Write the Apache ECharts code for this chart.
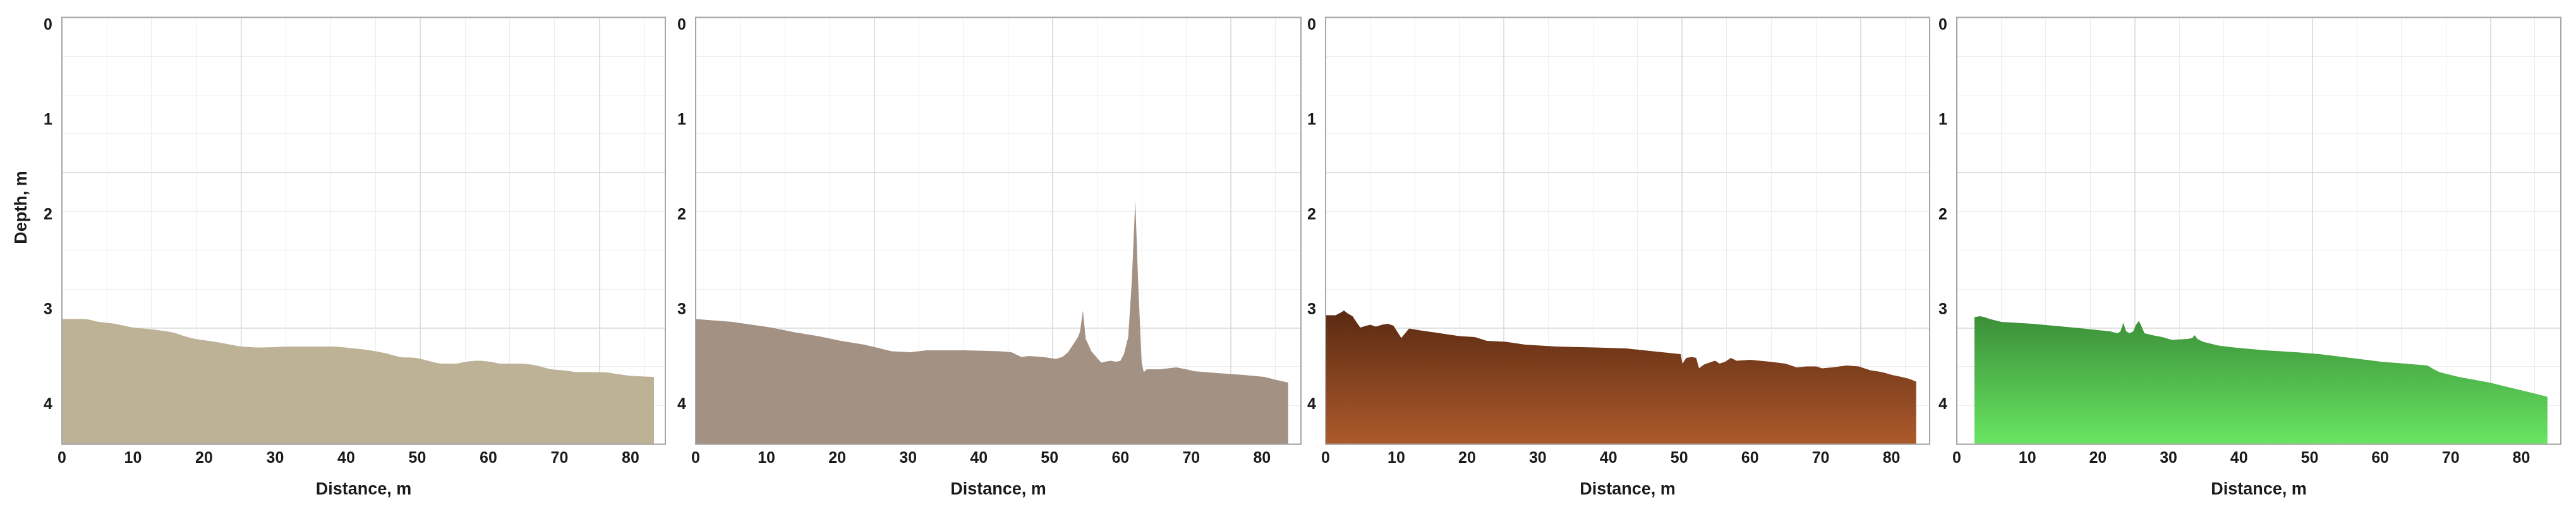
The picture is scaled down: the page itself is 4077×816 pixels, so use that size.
<!DOCTYPE html>
<html><head><meta charset="utf-8">
<script src="https://cdn.jsdelivr.net/npm/echarts@6/dist/echarts.min.js"></script>
<style>html,body{margin:0;padding:0;background:#fff}#c{width:4077px;height:816px}</style>
</head><body><div id="c"></div>
<script>
// ---- data (distance in m, depth in m) ----
const xTickValues = [0, 10, 20, 30, 40, 50, 60, 70, 80];
const yTickValues = [0, 1, 2, 3, 4];
const xAxisTitle = 'Distance, m';
const yAxisTitle = 'Depth, m';

const dist1 = [0, 3.0, 5.2, 7.4, 10.1, 12.8, 15.5, 17.2, 18.8, 21.5, 23.7, 25.3, 28.0, 32.4, 37.8, 41.1, 43.3, 45.5, 47.6, 49.8, 51.5, 53.6, 55.3, 56.9, 58.5, 60.2, 61.8, 64.5, 66.7, 68.9, 70.5, 72.7, 76.0, 78.1, 80.3, 83.3];
const depth1 = [3.18, 3.18, 3.21, 3.23, 3.27, 3.29, 3.32, 3.36, 3.39, 3.42, 3.45, 3.47, 3.48, 3.47, 3.47, 3.49, 3.51, 3.54, 3.58, 3.59, 3.62, 3.65, 3.65, 3.63, 3.62, 3.63, 3.65, 3.65, 3.67, 3.71, 3.72, 3.74, 3.74, 3.76, 3.78, 3.79];

const dist2 = [0, 5.2, 7.9, 10.7, 14.0, 17.3, 20.5, 23.8, 25.5, 27.7, 30.4, 32.6, 38.1, 43.0, 44.6, 46.0, 47.1, 49.0, 50.9, 51.8, 52.6, 53.4, 54.0, 54.3, 54.7, 55.1, 55.9, 56.7, 57.3, 57.8, 58.6, 59.4, 60.0, 60.5, 61.1, 61.6, 62.1, 62.5, 63.0, 63.3, 63.7, 65.5, 67.9, 69.3, 70.4, 73.7, 77.5, 80.3, 81.9, 83.7];
const depth2 = [3.18, 3.21, 3.24, 3.27, 3.32, 3.36, 3.41, 3.45, 3.48, 3.52, 3.53, 3.51, 3.51, 3.52, 3.53, 3.58, 3.57, 3.58, 3.60, 3.58, 3.53, 3.44, 3.37, 3.31, 3.09, 3.39, 3.52, 3.59, 3.64, 3.63, 3.62, 3.63, 3.62, 3.55, 3.37, 2.79, 1.93, 2.79, 3.64, 3.74, 3.71, 3.71, 3.69, 3.71, 3.73, 3.75, 3.77, 3.79, 3.82, 3.85];

const dist3 = [0, 1.4, 2.2, 2.6, 3.1, 3.8, 4.9, 5.8, 6.3, 7.1, 8.0, 8.8, 9.6, 10.7, 11.8, 13.4, 16.2, 18.9, 21.1, 22.8, 25.5, 28.2, 32.6, 38.1, 42.5, 46.3, 50.2, 50.45, 51.0, 51.8, 52.4, 52.8, 53.5, 54.6, 55.1, 55.7, 56.5, 57.3, 58.1, 60.0, 62.8, 65.0, 66.6, 68.0, 69.4, 70.2, 71.6, 73.7, 75.4, 77.0, 78.7, 80.1, 81.4, 82.5, 83.5];
const depth3 = [3.14, 3.14, 3.11, 3.09, 3.12, 3.15, 3.27, 3.25, 3.24, 3.26, 3.24, 3.23, 3.25, 3.38, 3.28, 3.30, 3.33, 3.36, 3.37, 3.41, 3.42, 3.45, 3.47, 3.48, 3.49, 3.52, 3.55, 3.65, 3.59, 3.58, 3.59, 3.70, 3.66, 3.63, 3.62, 3.65, 3.63, 3.59, 3.62, 3.61, 3.63, 3.65, 3.69, 3.68, 3.68, 3.70, 3.69, 3.67, 3.68, 3.72, 3.74, 3.77, 3.79, 3.81, 3.84];

const dist4 = [2.5, 3.3, 3.9, 4.7, 6.3, 10.7, 15.1, 17.9, 21.7, 22.8, 23.2, 23.6, 24.0, 24.5, 25.0, 25.4, 25.8, 26.2, 26.6, 27.7, 29.1, 30.5, 32.7, 33.4, 33.7, 34.1, 34.9, 37.1, 39.3, 43.7, 48.1, 51.4, 54.7, 58.0, 60.1, 63.5, 66.7, 67.6, 68.4, 71.1, 75.5, 78.8, 81.6, 83.7];
const depth4 = [3.16, 3.15, 3.16, 3.18, 3.21, 3.23, 3.26, 3.28, 3.31, 3.33, 3.31, 3.22, 3.31, 3.33, 3.31, 3.24, 3.20, 3.26, 3.33, 3.35, 3.37, 3.40, 3.39, 3.38, 3.35, 3.39, 3.42, 3.46, 3.48, 3.51, 3.53, 3.55, 3.58, 3.61, 3.63, 3.65, 3.67, 3.71, 3.74, 3.79, 3.85, 3.91, 3.96, 4.00];

// ---- layout / style ----
const FONT = "'Liberation Sans', Arial, sans-serif";
const panels = [
  {left: 98,   width: 955, xMax: 84.9, dist: dist1, depth: depth1, smooth: 0.35,
   fill: '#bdb196', yName: yAxisTitle},
  {left: 1101, width: 958, xMax: 85.5, dist: dist2, depth: depth2, smooth: false,
   fill: '#a39184'},
  {left: 2098, width: 956, xMax: 85.4, dist: dist3, depth: depth3, smooth: false,
   fill: ['#5a2a12', '#ad5a2c']},
  {left: 3097, width: 956, xMax: 85.6, dist: dist4, depth: depth4, smooth: false,
   fill: ['#3b8f38', '#68e562']}
];
const TOP = 27.5, HEIGHT = 675, YMAX = 4.5;
const minorX = 6.3, majorX = 25.2, minorY = 0.409, majorY = 1.636;

const grids = [], xAxes = [], yAxes = [], series = [];
const labelStyle = {fontFamily: FONT, fontWeight: 'bold', fontSize: 25, color: '#1a1a1a'};
const nameStyle = {fontFamily: FONT, fontWeight: 'bold', fontSize: 27, color: '#1a1a1a'};
const hidden = {axisLine: {show: false}, axisTick: {show: false}, axisLabel: {show: false}};

panels.forEach((p, i) => {
  grids.push({left: p.left, top: TOP, width: p.width, height: HEIGHT, show: true,
    backgroundColor: 'transparent', borderColor: '#a6a6a6', borderWidth: 2, z: 5});
  // main x axis
  xAxes.push({gridIndex: i, type: 'value', min: 0, max: p.xMax, interval: 10,
    axisLine: {show: false}, axisTick: {show: false}, splitLine: {show: false},
    axisLabel: Object.assign({margin: 10, customValues: xTickValues}, labelStyle),
    name: xAxisTitle, nameLocation: 'middle', nameGap: 59, nameTextStyle: nameStyle});
  xAxes.push(Object.assign({gridIndex: i, type: 'value', min: 0, max: p.xMax, interval: minorX,
    splitLine: {show: true, lineStyle: {color: '#ececec', width: 1}}}, hidden));
  xAxes.push(Object.assign({gridIndex: i, type: 'value', min: 0, max: p.xMax, interval: majorX,
    splitLine: {show: true, lineStyle: {color: '#dadada', width: 1.5}}}, hidden));
  // main y axis
  const ya = {gridIndex: i, type: 'value', inverse: true, min: 0, max: YMAX, interval: 1,
    axisLine: {show: false}, axisTick: {show: false}, splitLine: {show: false},
    axisLabel: Object.assign({margin: 15, verticalAlign: 'top', customValues: yTickValues}, labelStyle)};
  if (p.yName) {
    ya.name = p.yName; ya.nameLocation = 'middle'; ya.nameGap = 50;
    ya.nameTextStyle = Object.assign({padding: [0, 0, 0, 74]}, nameStyle);
  }
  yAxes.push(ya);
  yAxes.push(Object.assign({gridIndex: i, type: 'value', inverse: true, min: 0, max: YMAX,
    interval: minorY, splitLine: {show: true, lineStyle: {color: '#ececec', width: 1}}}, hidden));
  yAxes.push(Object.assign({gridIndex: i, type: 'value', inverse: true, min: 0, max: YMAX,
    interval: majorY, splitLine: {show: true, lineStyle: {color: '#dadada', width: 1.5}}}, hidden));

  const color = Array.isArray(p.fill)
    ? new echarts.graphic.LinearGradient(0, 0, 0, 1, [{offset: 0, color: p.fill[0]}, {offset: 1, color: p.fill[1]}])
    : p.fill;
  series.push({type: 'line', xAxisIndex: i * 3, yAxisIndex: i * 3,
    data: p.dist.map((d, k) => [d, p.depth[k]]),
    showSymbol: false, symbol: 'none', smooth: p.smooth,
    lineStyle: {width: 0}, areaStyle: {origin: 'end', color: color, opacity: 1},
    silent: true, z: 2});
});

const chart = echarts.init(document.getElementById('c'), null, {renderer: 'canvas'});
chart.setOption({backgroundColor: '#ffffff', animation: false,
  grid: grids, xAxis: xAxes, yAxis: yAxes, series: series});
</script></body></html>
